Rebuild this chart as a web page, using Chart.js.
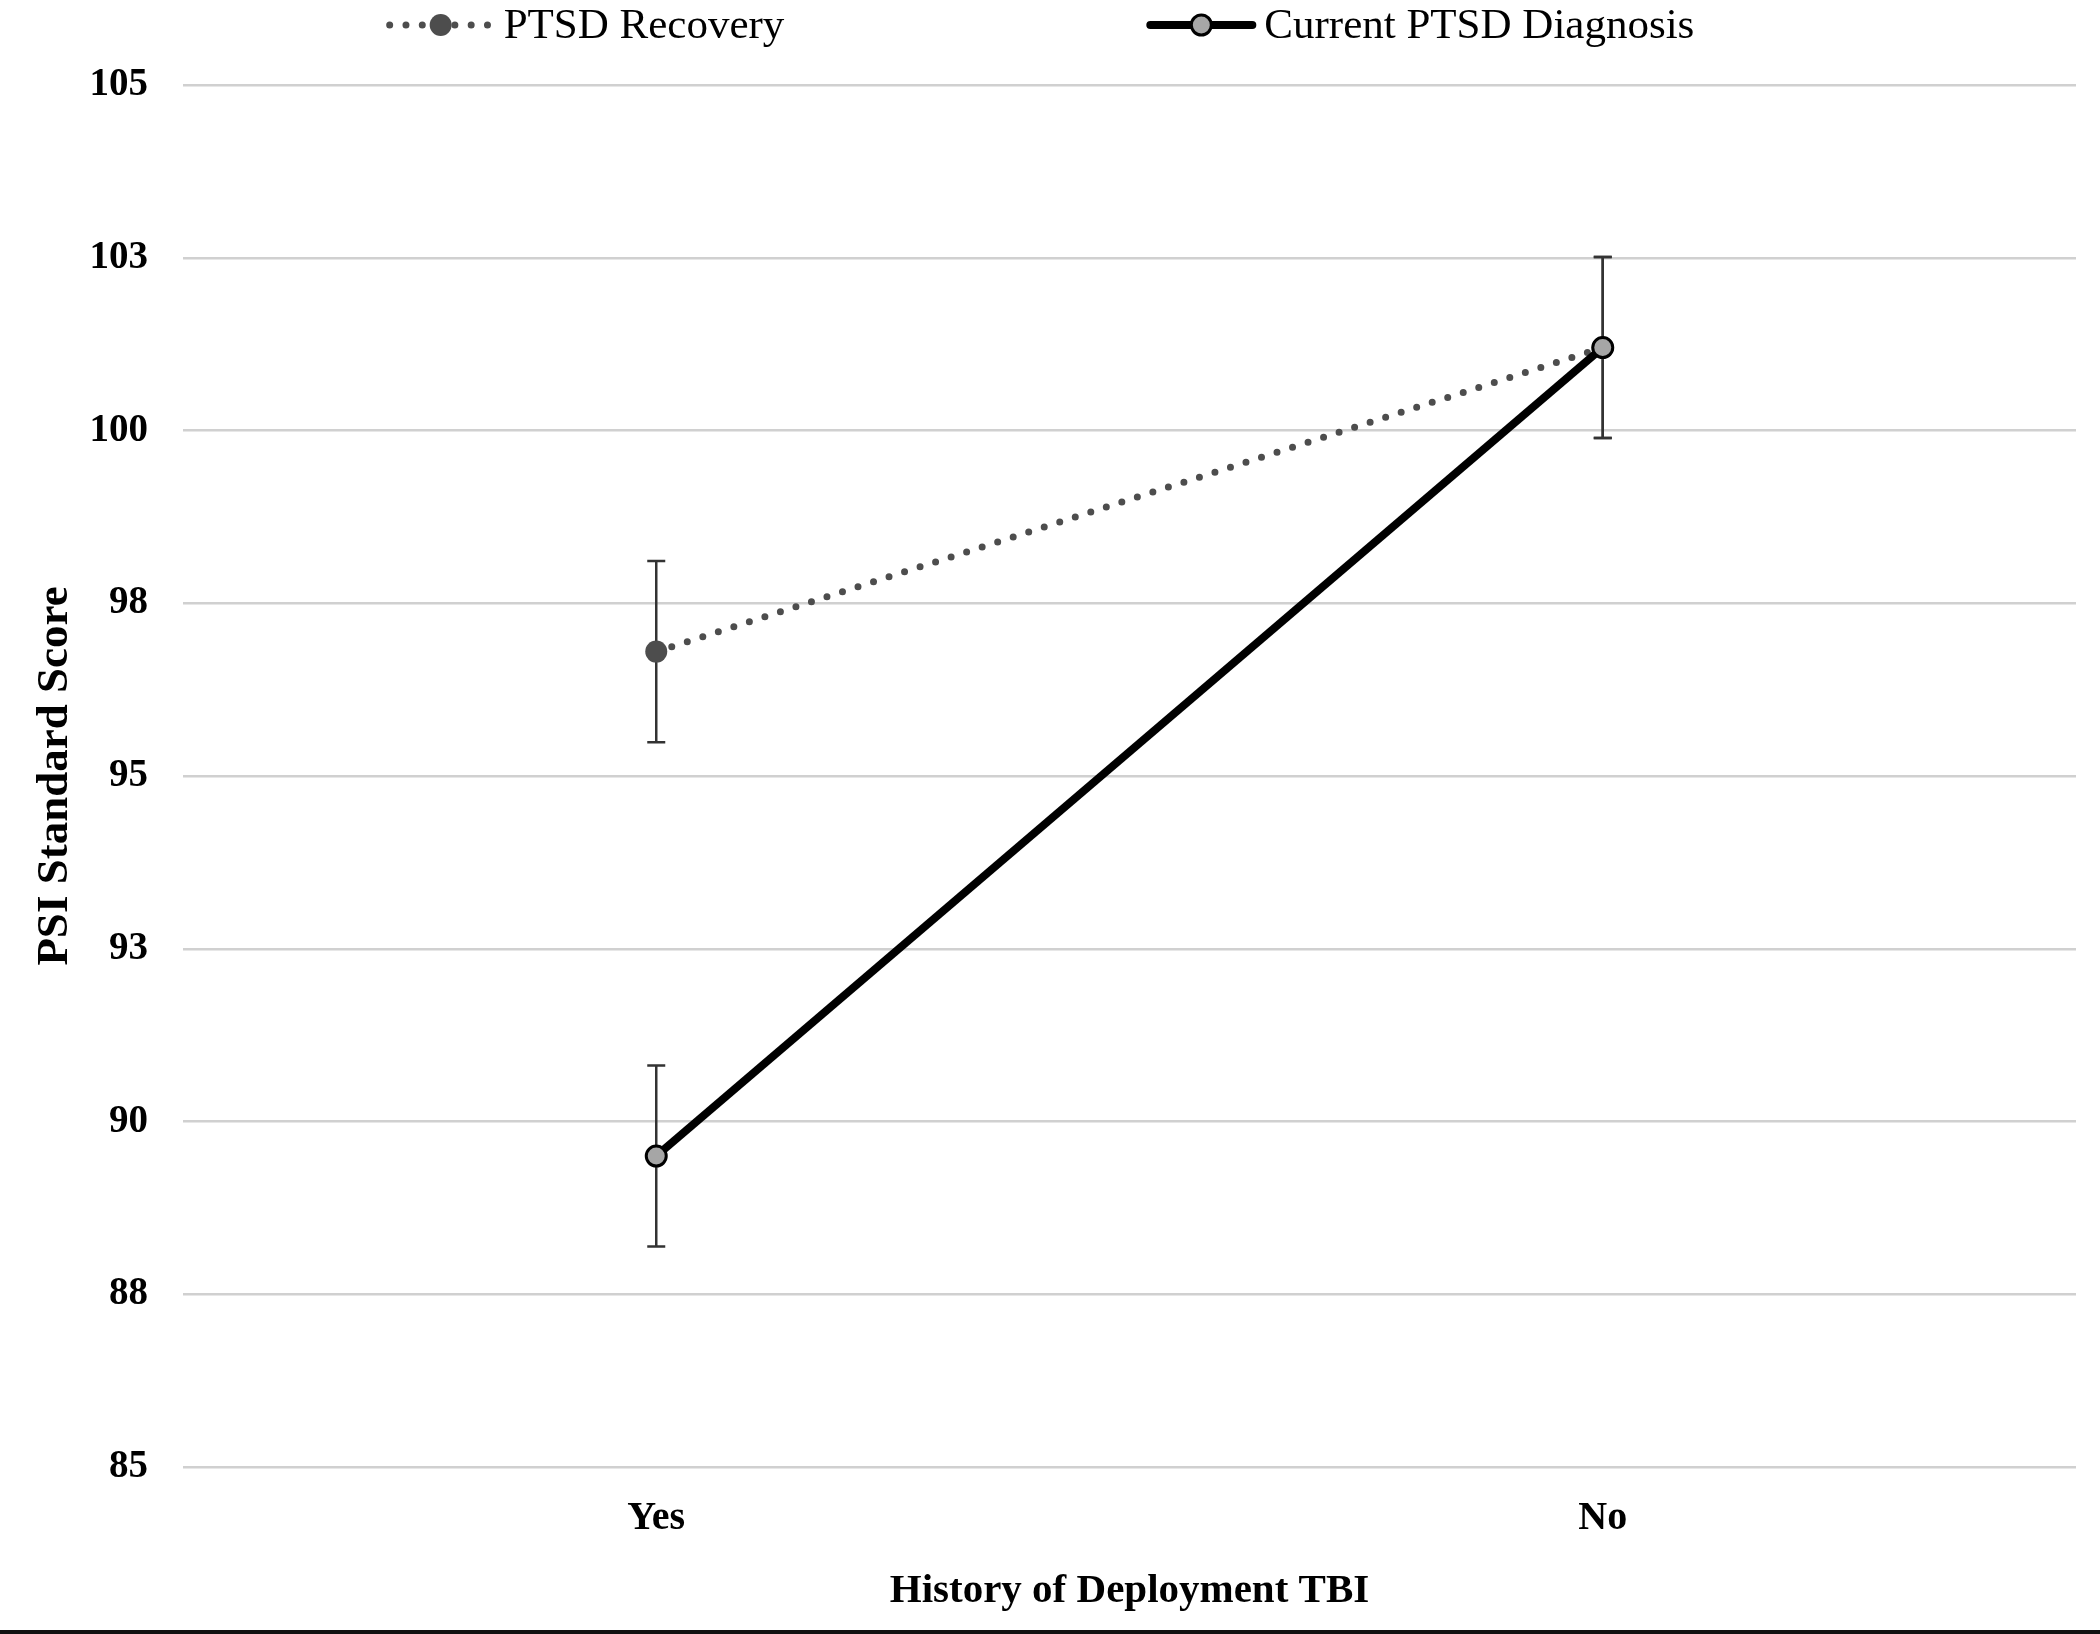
<!DOCTYPE html>
<html>
<head>
<meta charset="utf-8">
<script src="https://cdn.jsdelivr.net/npm/chart.js@4.4.1/dist/chart.umd.min.js"></script>
<style>
  html, body { margin: 0; padding: 0; background: #fff; }
  canvas { display: block; }
</style>
</head>
<body>
<canvas id="ptsdChart" width="2100" height="1634"></canvas>
<script>
var categories = ['Yes', 'No'];
var recoveryScores = [96.8, 101.2];
var recoveryErrors = [1.31, 1.31];
var currentScores = [89.5, 101.2];
var currentErrors = [1.31, 1.31];
var yTickLabels = ['85', '88', '90', '93', '95', '98', '100', '103', '105'];

var serif = "'Liberation Serif', 'Times New Roman', serif";

// vertical error bars, drawn under the points
var errorBars = {
    id: 'errorBars',
    beforeDatasetsDraw: function(chart) {
        var ctx = chart.ctx;
        var y = chart.scales.y;
        ctx.save();
        ctx.strokeStyle = '#333333';
        ctx.lineWidth = 2.5;
        chart.data.datasets.forEach(function(ds, i) {
            var meta = chart.getDatasetMeta(i);
            meta.data.forEach(function(pt, j) {
                var v = ds.data[j], e = ds.errors[j];
                var top = y.getPixelForValue(v + e);
                var bot = y.getPixelForValue(v - e);
                ctx.beginPath();
                ctx.moveTo(pt.x, top); ctx.lineTo(pt.x, bot);
                ctx.moveTo(pt.x - 9, top); ctx.lineTo(pt.x + 9, top);
                ctx.moveTo(pt.x - 9, bot); ctx.lineTo(pt.x + 9, bot);
                ctx.stroke();
            });
        });
        ctx.restore();
    }
};

// legend with line + marker symbols, plus the frame line at the bottom
var topLegend = {
    id: 'topLegend',
    afterDraw: function(chart) {
        var ctx = chart.ctx;
        var ds = chart.data.datasets;
        ctx.save();
        ctx.font = '43px ' + serif;
        ctx.textBaseline = 'middle';
        var symW = 110, gap = 8, itemGap = 362;
        var total = 0;
        ds.forEach(function(d, i) {
            total += symW + gap + ctx.measureText(d.label).width;
            if (i < ds.length - 1) total += itemGap;
        });
        var x = (chart.width - total) / 2 - 10;
        var cy = 25;
        ds.forEach(function(d) {
            ctx.save();
            ctx.strokeStyle = d.borderColor;
            ctx.lineWidth = d.borderWidth;
            ctx.lineCap = 'round';
            if (d.borderDash) ctx.setLineDash(d.borderDash);
            ctx.beginPath();
            ctx.moveTo(x + 4, cy); ctx.lineTo(x + symW - 4, cy);
            ctx.stroke();
            ctx.setLineDash([]);
            ctx.beginPath();
            ctx.arc(x + symW / 2, cy, d.pointRadius, 0, Math.PI * 2);
            ctx.fillStyle = d.pointBackgroundColor;
            ctx.fill();
            if (d.pointBorderWidth) {
                ctx.lineWidth = d.pointBorderWidth;
                ctx.strokeStyle = d.pointBorderColor;
                ctx.stroke();
            }
            ctx.restore();
            ctx.fillStyle = '#000';
            ctx.fillText(d.label, x + symW + gap, cy + 2);
            x += symW + gap + ctx.measureText(d.label).width + itemGap;
        });
        ctx.fillStyle = '#111';
        ctx.fillRect(0, chart.height - 4, chart.width, 4);
        ctx.restore();
    }
};

new Chart(document.getElementById('ptsdChart').getContext('2d'), {
    type: 'line',
    data: {
        labels: categories,
        datasets: [{
            label: 'PTSD Recovery',
            data: recoveryScores,
            errors: recoveryErrors,
            borderColor: '#4d4d4d',
            borderWidth: 7,
            borderDash: [0, 16.3],
            borderCapStyle: 'round',
            pointRadius: 11,
            pointBackgroundColor: '#4d4d4d',
            pointBorderColor: '#4d4d4d',
            pointBorderWidth: 0,
            tension: 0,
            order: 1
        }, {
            label: 'Current PTSD Diagnosis',
            data: currentScores,
            errors: currentErrors,
            borderColor: '#000000',
            borderWidth: 8,
            pointRadius: 10,
            pointBackgroundColor: '#a6a6a6',
            pointBorderColor: '#000000',
            pointBorderWidth: 3,
            tension: 0,
            order: 0
        }]
    },
    options: {
        responsive: false,
        animation: false,
        layout: { padding: { top: 85, right: 24, left: 0, bottom: 0 } },
        scales: {
            x: {
                offset: true,
                grid: { display: false },
                border: { display: false },
                ticks: {
                    color: '#000',
                    font: { family: serif, size: 40, weight: 'bold' },
                    padding: 20
                },
                title: {
                    display: true,
                    text: 'History of Deployment TBI',
                    color: '#000',
                    font: { family: serif, size: 41, weight: 'bold' },
                    padding: { top: 0, bottom: 18 }
                },
                afterFit: function(s) { s.height = 167; }
            },
            y: {
                min: 85,
                max: 105,
                grid: { color: '#d0d0d0', lineWidth: 2.5, drawTicks: false },
                border: { display: false },
                ticks: {
                    stepSize: 2.5,
                    color: '#000',
                    padding: 35,
                    font: { family: serif, size: 39, weight: 'bold' },
                    callback: function(v, i) { return yTickLabels[i]; }
                },
                title: {
                    display: true,
                    text: 'PSI Standard Score',
                    color: '#000',
                    font: { family: serif, size: 45, weight: 'bold' },
                    padding: { top: 28, bottom: 0 }
                },
                afterFit: function(s) { s.width = 183; }
            }
        },
        plugins: {
            legend: { display: false },
            tooltip: { enabled: false }
        }
    },
    plugins: [errorBars, topLegend]
});
</script>
</body>
</html>
